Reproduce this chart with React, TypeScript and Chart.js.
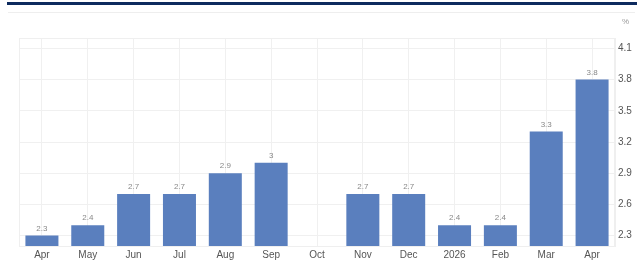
import React, { useEffect, useRef } from "react";
import { Chart, registerables } from "chart.js";

Chart.register(...registerables);

const categories = ["Apr", "May", "Jun", "Jul", "Aug", "Sep", "Oct", "Nov", "Dec", "2026", "Feb", "Mar", "Apr"];
const values: (number | null)[] = [2.3, 2.4, 2.7, 2.7, 2.9, 3, null, 2.7, 2.7, 2.4, 2.4, 3.3, 3.8];
const yTicks = [2.3, 2.6, 2.9, 3.2, 3.5, 3.8, 4.1];
const unitLabel = "%";

const FONT = "'Liberation Sans', Arial, sans-serif";

const decorPlugin = {
  id: "decor",
  beforeDraw(chart: any) {
    const { ctx, chartArea } = chart;
    ctx.save();
    ctx.fillStyle = "#ffffff";
    ctx.fillRect(0, 0, chart.width, chart.height);
    ctx.fillStyle = "#0d2a5e";
    ctx.fillRect(7, 2, 630, 3);
    ctx.fillStyle = "#eeeeee";
    ctx.fillRect(8, 12, 627, 1);
    ctx.fillStyle = "#999999";
    ctx.font = `8px ${FONT}`;
    ctx.textAlign = "left";
    ctx.textBaseline = "middle";
    ctx.fillText(unitLabel, chartArea.right + 7, 22);
    ctx.restore();
  },
  afterDatasetsDraw(chart: any) {
    const { ctx, chartArea } = chart;
    ctx.save();
    ctx.strokeStyle = "#efefef";
    ctx.lineWidth = 1;
    ctx.strokeRect(chartArea.left + 0.5, chartArea.top + 0.5, chartArea.right - chartArea.left - 1, chartArea.bottom - chartArea.top);
    const meta = chart.getDatasetMeta(0);
    ctx.fillStyle = "#888888";
    ctx.font = `8px ${FONT}`;
    ctx.textAlign = "center";
    ctx.textBaseline = "bottom";
    meta.data.forEach((bar: any, i: number) => {
      const v = values[i];
      if (v === null || v === undefined) return;
      ctx.fillText(String(v), bar.x, bar.y - 3);
    });
    ctx.restore();
  },
};

export default function App() {
  const ref = useRef<HTMLCanvasElement>(null);
  useEffect(() => {
    if (!ref.current) return;
    const chart = new Chart(ref.current, {
      type: "bar",
      data: {
        labels: categories,
        datasets: [
          {
            data: values,
            backgroundColor: "#5a7fbe",
            borderWidth: 0,
            barPercentage: 0.72,
            categoryPercentage: 1,
          },
        ],
      },
      options: {
        animation: false,
        responsive: false,
        maintainAspectRatio: false,
        layout: { padding: { left: 19, top: 38, right: 0, bottom: 0 } },
        plugins: { legend: { display: false }, tooltip: { enabled: false } },
        scales: {
          x: {
            grid: { offset: false, color: "#f0f0f0", drawTicks: false },
            border: { display: true, color: "#efefef" },
            ticks: { color: "#555555", font: { family: FONT, size: 10 }, padding: 3, maxRotation: 0, autoSkip: false },
            afterFit(scale: any) {
              scale.height = 26;
            },
          },
          y: {
            position: "right",
            min: 2.2,
            max: 4.2,
            afterBuildTicks(scale: any) {
              scale.ticks = yTicks.map((v) => ({ value: v }));
            },
            grid: { color: "#f0f0f0", drawTicks: false },
            border: { display: true, color: "#efefef" },
            ticks: {
              color: "#555555",
              font: { family: FONT, size: 10 },
              padding: 3,
              callback: (v: any) => String(v),
            },
            afterFit(scale: any) {
              scale.width = 25;
            },
          },
        },
      },
      plugins: [decorPlugin],
    });
    return () => chart.destroy();
  }, []);
  return (
    <div style={{ position: "fixed", left: 0, top: 0, width: 640, height: 272, background: "#fff" }}>
      <canvas ref={ref} width={640} height={272} style={{ width: 640, height: 272, display: "block" }} />
    </div>
  );
}
